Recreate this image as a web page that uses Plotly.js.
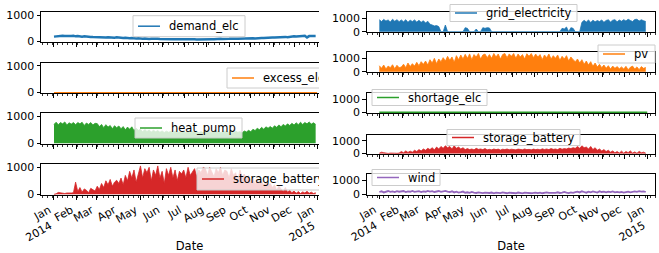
<!DOCTYPE html>
<html><head><meta charset="utf-8">
<script src="https://cdn.plot.ly/plotly-3.0.1.min.js"></script>
<style>
html,body{margin:0;padding:0;background:#fff;width:659px;height:253px;overflow:hidden}
#wrapL{position:absolute;left:0;top:0;width:319px;height:253px;overflow:hidden;z-index:2;background:#fff}
#left{width:360px;height:253px}
#right{position:absolute;left:320px;top:0;width:339px;height:253px;z-index:1}
</style></head><body>
<div id="wrapL"><div id="left"></div></div>
<div id="right"></div>
<script>
// ---- categories / ticks ----
const startDay = '2014-01-01';
const stepDays = 3;
const nPoints = 122;
const monthDates = ['2014-01-01','2014-02-01','2014-03-01','2014-04-01','2014-05-01','2014-06-01','2014-07-01','2014-08-01','2014-09-01','2014-10-01','2014-11-01','2014-12-01','2015-01-01'];
const monthLabels = ['Jan<br>2014\u00A0\u00A0','Feb','Mar','Apr','May','Jun','Jul','Aug','Sep','Oct','Nov','Dec','Jan<br>2015\u00A0\u00A0'];

// ---- series values (~3-day steps) ----
const demand_elc = [190,200,210,230,220,215,205,200,210,220, 200,210,195,190,200,185,190,180,175,170, 175,180,170,165,160,170,160,155,150,165, 150,145,140,150,135,130,140,125,120,130, 115,110,120,105,100,110,100,95,105,100, 95,100,90,95,100,90,95,85,95,90, 90,95,85,90,95,90,85,90,95,90, 95,90,100,95,90,100,95,105,100,95, 100,105,110,100,105,110,115,105,110,120, 115,125,130,120,135,130,140,135,145,150, 150,160,155,165,170,165,175,180,170,185, 190,200,195,210,205,215,220,160,210,220,225,215];
const excess_elc = [0,0,0,0,0,0,0,0,0,0,0,0,0];
const heat_pump = [700,780,690,770,720,790,680,760,710,770, 690,770,720,780,660,750,700,770,680,740, 730,620,700,580,690,600,660,540,650,580, 640,540,620,500,600,520,610,470,560,480, 520,430,510,440,490,420,480,430,470,410, 460,400,450,410,440,390,450,400,430,410, 440,400,450,390,440,410,450,390,430,400, 450,400,440,390,450,410,440,400,420,450, 440,400,460,390,450,410,430,380,460,420, 480,430,520,470,560,500,590,520,610,560, 620,560,650,590,680,610,700,640,720,660, 740,680,760,690,780,700,770,720,790,710,760,700];
const storage_battery_a = [0,20,70,60,40,30,50,40,50,60, 450,100,250,80,200,150,60,220,180,120, 300,180,400,250,500,350,550,300,450,520, 400,600,350,700,500,850,600,900,450,750, 1050,600,950,800,1000,500,900,700,1050,600, 850,400,950,700,1000,600,900,500,850,750, 900,600,1000,700,850,950,650,900,800,1000, 950,700,1000,850,650,950,800,1000,700,900, 850,600,950,700,800,500,900,650,750,550, 700,450,600,350,550,400,500,300,450,350, 400,250,350,150,300,200,100,250,80,150, 60,120,40,100,30,90,50,110,40,80,30,60];
const grid_electricity = [900,760,920,800,880,720,930,780,900,750, 880,740,900,700,860,760,880,720,850,700, 820,650,780,560,500,430,460,380,0,0, 500,0,0,0,0,0,0,0,0,300, 250,0,0,0,200,0,0,300,250,300, 280,0,0,0,0,0,0,0,0,0, 0,0,0,0,0,0,0,0,0,0, 0,0,0,0,0,0,0,0,0,0, 0,0,0,250,200,350,0,300,250,0, 0,0,700,850,720,880,680,860,740,830, 760,880,700,840,890,730,860,900,740,870, 780,900,800,930,840,760,910,930,800,890,820,760];
const pv = [450,250,500,200,420,300,520,220,480,300, 350,560,300,650,380,600,420,700,450,750, 550,800,500,900,650,1000,600,950,750,1050, 800,1150,850,1100,700,1200,900,1250,950,1300, 1000,1330,900,1280,1100,1360,950,1250,1320,1050, 1280,1000,1360,1100,1320,950,1280,1360,1050,1330, 1150,1360,1000,1320,1100,1280,950,1340,1150,1360, 1050,1320,1100,1280,900,1250,1050,1320,950,1200, 1000,1250,850,1150,950,1200,800,1100,900,750, 950,650,900,550,800,500,750,400,650,350, 550,300,500,250,450,200,420,250,380,220, 360,200,400,150,330,420,200,360,150,380,250,320];
const shortage_elc = [0,0,0,0,0,0,0,0,0,0,0,0,0];
const storage_battery_b = [20,100,60,20,0,30,0,20,10,30, 150,50,200,80,180,100,250,150,300,200, 350,250,400,300,450,280,500,350,550,400, 600,450,550,350,600,400,500,350,450,300, 380,300,350,280,400,320,350,300,380,280, 320,280,350,300,340,260,330,300,350,290, 330,300,280,340,310,290,350,300,320,280, 340,300,330,280,360,310,350,300,380,320, 350,300,400,330,380,350,420,380,450,400, 550,400,600,450,500,350,550,300,450,250, 350,200,300,150,250,100,200,50,150,30, 180,20,150,60,200,30,120,10,160,50,100,20];
const wind = [150,200,120,180,220,160,190,140,210,170, 180,220,150,200,170,230,160,190,210,150, 200,170,230,180,210,150,190,220,160,200, 230,180,150,200,120,170,110,140,180,100, 130,90,150,110,80,120,100,70,110,90, 80,110,60,100,90,70,120,80,60,100, 70,90,60,110,80,50,100,70,90,60, 80,110,70,100,60,90,120,80,70,100, 90,130,80,110,150,100,70,120,90,140, 180,120,200,150,100,170,130,190,140,110, 200,150,180,120,170,140,190,130,160,120, 150,110,140,170,120,180,200,160,210,180,200,150];

// date grid
const dates = [];
(function(){const t0 = Date.parse(startDay+'T00:00:00Z');
  for(let i=0;i<nPoints;i++){dates.push(new Date(t0+i*stepDays*86400000).toISOString().slice(0,10));}})();

const FONT = 'DejaVu Sans';
const C = {blue:'#1f77b4', orange:'#ff7f0e', green:'#2ca02c', red:'#d62728', purple:'#9467bd'};

function build(divId, W, H, xPx, xRange, yRange, panels) {
  const traces = [], shapes = [], annotations = [];
  const layout = {
    width:W, height:H, margin:{l:0,r:0,t:0,b:0}, paper_bgcolor:'#fff', plot_bgcolor:'#fff',
    font:{family:FONT, size:11, color:'#000'}, showlegend:false, shapes:shapes, annotations:annotations
  };
  panels.forEach((p,k)=>{
    const n = k+1, sx = n===1?'':n, bottom = (k===panels.length-1);
    const xa = 'x'+sx, ya = 'y'+sx;
    traces.push({x:p.x, y:p.y, type:'scatter', mode:'lines', xaxis:xa, yaxis:ya, name:p.name,
      line:{color:p.color, width:p.lw}, fill:p.fill?'tozeroy':'none', fillcolor:p.color,
      hoverinfo:'skip'});
    layout['xaxis'+sx] = {
      domain:[xPx[0]/W, xPx[1]/W], anchor:ya, type:'date', range:xRange,
      tickmode:'array', tickvals:monthDates, ticktext:monthLabels, showticklabels:bottom,
      tickangle:-30, ticklabelshift:-5, tickfont:{size:11, family:FONT, color:'#000'},
      ticks:'outside', ticklen:3.5, tickwidth:1, tickcolor:'#000',
      minor:{ticks:'outside', ticklen:2, tickwidth:0.8, tickcolor:'#000', dtick:7*86400000, tick0:'2014-01-06', showgrid:false},
      showline:true, mirror:true, linecolor:'#000', linewidth:1,
      showgrid:false, zeroline:false, fixedrange:true,
      title: bottom ? {text:'Date', font:{size:11.5, family:FONT, color:'#000'}, standoff:4} : {text:''}
    };
    layout['yaxis'+sx] = {
      domain:[1-p.bottom/H, 1-p.top/H], anchor:xa, range:yRange,
      tickmode:'array', tickvals:[0,1000], ticktext:['0','1000'],
      ticks:'outside', ticklen:3.5, tickwidth:1, tickcolor:'#000',
      tickfont:{size:11, family:FONT, color:'#000'},
      showline:true, mirror:true, linecolor:'#000', linewidth:1,
      showgrid:false, zeroline:false, fixedrange:true
    };
    // matplotlib-style legend box: frame, handle line, label
    const L = p.leg, ym = L.t + L.h/2;
    shapes.push({type:'rect', xref:'paper', yref:'paper', layer:'above',
      x0:L.l/W, x1:(L.l+L.w)/W, y0:1-(L.t+L.h)/H, y1:1-L.t/H,
      fillcolor:'rgba(255,255,255,0.8)', line:{color:'#cccccc', width:1}});
    shapes.push({type:'line', xref:'paper', yref:'paper', layer:'above',
      x0:(L.l+5)/W, x1:(L.l+27)/W, y0:1-ym/H, y1:1-ym/H, line:{color:p.color, width:1.5}});
    annotations.push({text:p.name, xref:'paper', yref:'paper', x:(L.l+35)/W, y:1-ym/H,
      xanchor:'left', yanchor:'middle', showarrow:false, borderpad:0,
      font:{size:11.5, family:FONT, color:'#000'}});
  });
  Plotly.newPlot(divId, traces, layout, {staticPlot:true, displayModeBar:false});
}

build('left', 360, 253, [41, 338], ['2013-12-14','2015-01-30'], [-25, 1110], [
  {name:'demand_elc', x:dates, y:demand_elc, color:C.blue, lw:2.5, fill:false, top:12.3, bottom:42.3, leg:{l:133, t:15.7, w:112, h:21}},
  {name:'excess_elc', x:monthDates, y:excess_elc, color:C.orange, lw:1.5, fill:false, top:62.7, bottom:93.3, leg:{l:227, t:68, w:118, h:20}},
  {name:'heat_pump', x:dates, y:heat_pump, color:C.green, lw:0.8, fill:true, top:113.3, bottom:144, leg:{l:135, t:118, w:107, h:20}},
  {name:'storage_battery', x:dates, y:storage_battery_a, color:C.red, lw:0.8, fill:true, top:164.3, bottom:195, leg:{l:197, t:168, w:145, h:22}}
]);

build('right', 339, 253, [46.7, 335.3], ['2013-12-14T19:00','2015-01-12'], [-45, 1450], [
  {name:'grid_electricity', x:dates, y:grid_electricity, color:C.blue, lw:0.8, fill:true, top:12.3, bottom:32.3, leg:{l:130, t:4.5, w:127, h:17}},
  {name:'pv', x:dates, y:pv, color:C.orange, lw:0.8, fill:true, top:52.3, bottom:72.3, leg:{l:278, t:45, w:57, h:18}},
  {name:'shortage_elc', x:monthDates, y:shortage_elc, color:C.green, lw:2, fill:false, top:93.3, bottom:113, leg:{l:52, t:89.5, w:115, h:16}},
  {name:'storage_battery', x:dates, y:storage_battery_b, color:C.red, lw:0.8, fill:true, top:135, bottom:154, leg:{l:127, t:129.5, w:133, h:16}},
  {name:'wind', x:dates, y:wind, color:C.purple, lw:1.8, fill:false, top:174, bottom:194.7, leg:{l:52, t:169.5, w:68, h:16}}
]);
</script></body></html>
